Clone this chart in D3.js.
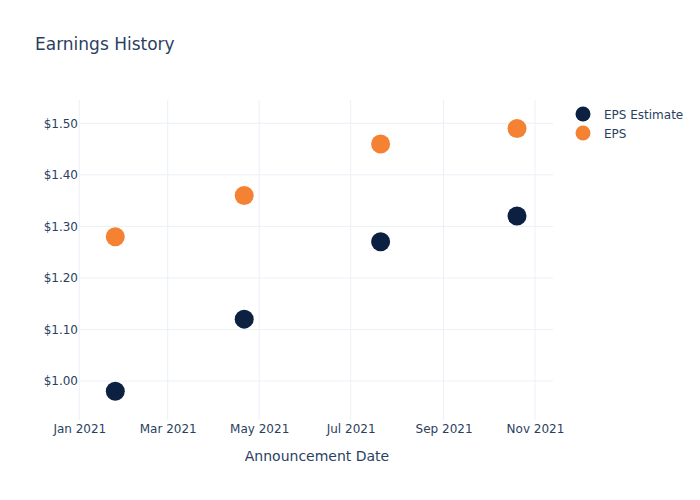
<!DOCTYPE html>
<html><head><meta charset="utf-8">
<script src="https://cdn.jsdelivr.net/npm/d3@7"></script>
<style>body{margin:0;background:#fff;font-family:"DejaVu Sans",sans-serif;}</style>
</head><body><svg id="c" width="700" height="500"></svg>
<script>
const dates = ["2021-01-25","2021-04-21","2021-07-21","2021-10-20"];
const epsEstimate = [0.98, 1.12, 1.27, 1.32];
const eps = [1.28, 1.36, 1.46, 1.49];
const yTicks = [1.0, 1.1, 1.2, 1.3, 1.4, 1.5];
const xTicks = ["2021-01-01","2021-03-01","2021-05-01","2021-07-01","2021-09-01","2021-11-01"];
const seriesNames = ["EPS Estimate","EPS"];
const colors = ["#0c2142","#f58233"];

const parse = d3.utcParse("%Y-%m-%d");
const svg = d3.select("#c");
const F = "DejaVu Sans, sans-serif";
const L=80, R=553, T=100, B=420;
const x = d3.scaleUtc().domain([parse("2021-01-01"), parse("2021-11-13")]).range([79.3,R]);
const y = d3.scaleLinear().domain([0.9243,1.5452]).range([B,T]);
const txt="#2a3f5f", grid="#ebf0f8";

// gridlines
svg.append("g").selectAll("line").data(xTicks).join("line")
  .attr("x1",d=>x(parse(d))).attr("x2",d=>x(parse(d))).attr("y1",T).attr("y2",B)
  .attr("stroke",grid).attr("stroke-width",1);
svg.append("g").selectAll("line").data(yTicks).join("line")
  .attr("x1",L).attr("x2",R).attr("y1",d=>y(d)).attr("y2",d=>y(d))
  .attr("stroke",grid).attr("stroke-width",1);

// axes via d3 axis
const xa = svg.append("g").attr("transform",`translate(0,${B})`)
  .call(d3.axisBottom(x).tickValues(xTicks.map(parse)).tickFormat(d3.utcFormat("%b %Y")).tickSize(0).tickPadding(4));
const ya = svg.append("g").attr("transform",`translate(${L},0)`)
  .call(d3.axisLeft(y).tickValues(yTicks).tickFormat(d=>"$"+d.toFixed(2)).tickSize(0).tickPadding(2));
[xa,ya].forEach(a=>{a.select(".domain").remove();
  a.selectAll("text").attr("fill",txt).attr("font-size",12).attr("font-family",F);});

// points
const seriesData=[epsEstimate,eps];
seriesData.forEach((vals,i)=>{
  svg.append("g").selectAll("circle").data(vals).join("circle")
    .attr("cx",(d,j)=>x(parse(dates[j]))).attr("cy",d=>y(d)).attr("r",9.5)
    .attr("fill",colors[i]);
});

// title
svg.append("text").attr("x",35).attr("y",50).text("Earnings History")
  .attr("fill",txt).attr("font-size",17).attr("font-family",F);
svg.append("text").attr("x",317).attr("y",461).attr("text-anchor","middle").text("Announcement Date")
  .attr("fill",txt).attr("font-size",14).attr("font-family",F);

// legend
const lg = svg.append("g");
seriesNames.forEach((n,i)=>{
  lg.append("circle").attr("cx",583).attr("cy",114+i*19).attr("r",7.5).attr("fill",colors[i]);
  lg.append("text").attr("x",604).attr("y",119+i*19).text(n).attr("fill",txt)
    .attr("font-size",12).attr("font-family",F);
});
</script></body></html>
